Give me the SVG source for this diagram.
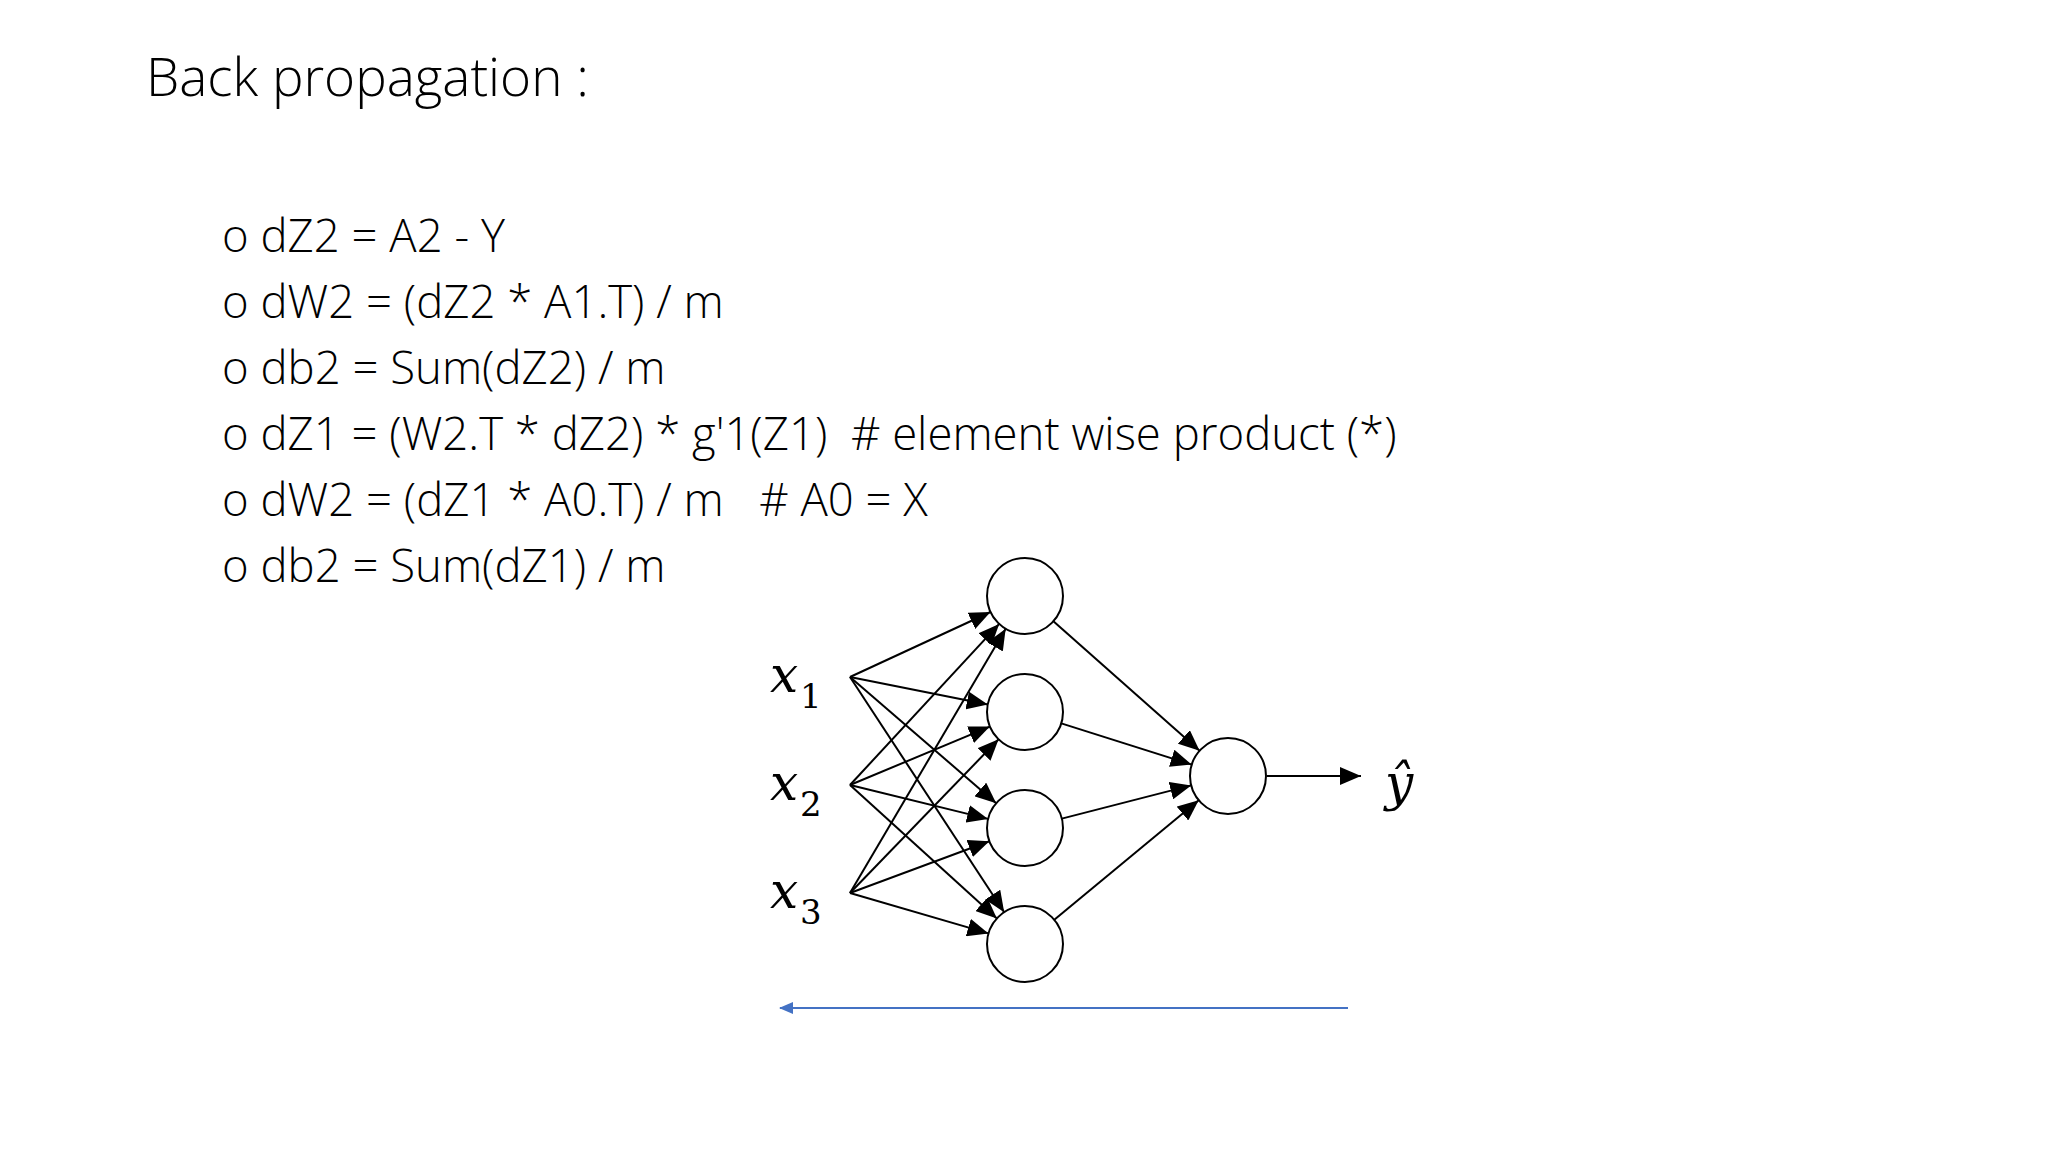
<svg xmlns="http://www.w3.org/2000/svg" width="2048" height="1152" viewBox="0 0 2048 1152">
<style>
.t{font-family:"Open Sans","Liberation Sans",sans-serif;font-weight:300;fill:#000}
.b{font-size:45.5px}
.m{font-family:"DejaVu Serif","Liberation Serif",serif;font-style:italic;font-size:50px}
.s{font-family:"DejaVu Serif","Liberation Serif",serif;font-size:34px}
.n{fill:#fff;stroke:#000;stroke-width:2}
.c line{stroke:#000;stroke-width:2;marker-end:url(#a)}
</style>
<defs>
<marker id="a" markerUnits="userSpaceOnUse" markerWidth="22" markerHeight="18" refX="21" refY="9" orient="auto"><path d="M0,0 L21,9 L0,18 Z" fill="#000"/></marker>
<marker id="ab" markerUnits="userSpaceOnUse" markerWidth="14" markerHeight="12" refX="13" refY="6" orient="auto"><path d="M0,0 L14,6 L0,12 Z" fill="#4472C4"/></marker>
</defs>
<rect width="2048" height="1152" fill="#fff"/>
<text class="t" x="146" y="96" font-size="53">Back propagation :</text>
<g class="t b">
<text x="222" y="252">o dZ2 = A2 - Y</text>
<text x="222" y="318">o dW2 = (dZ2 * A1.T) / m</text>
<text x="222" y="384">o db2 = Sum(dZ2) / m</text>
<text x="222" y="450" xml:space="preserve">o dZ1 = (W2.T * dZ2) * g'1(Z1)  # element wise product (*)</text>
<text x="222" y="516" xml:space="preserve">o dW2 = (dZ1 * A0.T) / m   # A0 = X</text>
<text x="222" y="582">o db2 = Sum(dZ1) / m</text>
</g>
<g class="c" id="connectors">
<line x1="850" y1="677" x2="990.5" y2="612"/>
<line x1="850" y1="677" x2="987.8" y2="704.6"/>
<line x1="850" y1="677" x2="996.2" y2="803.2"/>
<line x1="850" y1="677" x2="1004.2" y2="912.2"/>
<line x1="850" y1="785" x2="999.2" y2="623.9"/>
<line x1="850" y1="785" x2="989.9" y2="726.6"/>
<line x1="850" y1="785" x2="988.1" y2="818.9"/>
<line x1="850" y1="785" x2="996.9" y2="918.4"/>
<line x1="850" y1="893" x2="1005.7" y2="628.8"/>
<line x1="850" y1="893" x2="998.6" y2="739.3"/>
<line x1="850" y1="893" x2="989.4" y2="841.2"/>
<line x1="850" y1="893" x2="988.5" y2="933.4"/>
<line x1="1053.4" y1="621.2" x2="1199.6" y2="750.8"/>
<line x1="1061.3" y1="723.4" x2="1191.7" y2="764.6"/>
<line x1="1061.8" y1="818.6" x2="1191.2" y2="785.4"/>
<line x1="1054.3" y1="919.8" x2="1198.7" y2="800.2"/>
<line x1="1267" y1="776" x2="1361" y2="776"/>
<line x1="1348" y1="1008" x2="780" y2="1008" style="stroke:#4472C4;marker-end:url(#ab)"/>
</g>
<g id="x1"><text x="770" y="692" class="m">x</text><text x="800" y="708" class="s">1</text></g>
<g id="x2"><text x="770" y="800" class="m">x</text><text x="800" y="816" class="s">2</text></g>
<g id="x3"><text x="770" y="908" class="m">x</text><text x="800" y="924" class="s">3</text></g>
<g id="h1"><ellipse class="n" cx="1025" cy="596" rx="38" ry="38"/></g>
<g id="h2"><ellipse class="n" cx="1025" cy="712" rx="38" ry="38"/></g>
<g id="h3"><ellipse class="n" cx="1025" cy="828" rx="38" ry="38"/></g>
<g id="h4"><ellipse class="n" cx="1025" cy="944" rx="38" ry="38"/></g>
<g id="out"><ellipse class="n" cx="1228" cy="776" rx="38" ry="38"/></g>
<g id="yhat"><text x="1385" y="800" class="m">ŷ</text></g>
</svg>
